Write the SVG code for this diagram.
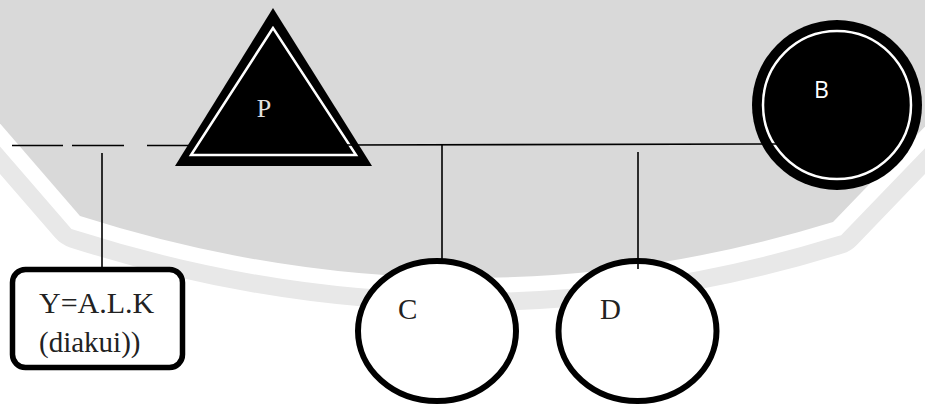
<svg xmlns="http://www.w3.org/2000/svg" width="925" height="405" viewBox="0 0 925 405">
<style>
.conn{stroke:#000;stroke-width:1.6;fill:none}
.lbl{fill:#222}
</style>
<defs>
<path id="seal" d="M -10,112 L 80,216 Q 460,337 833,222 L 940,111 L 940,-60 L -10,-60 Z"/>
</defs>
<rect width="925" height="405" fill="#ffffff"/>
<g id="background">
<use href="#seal" fill="none" stroke="#e8e8e8" stroke-width="66" stroke-linejoin="round"/>
<use href="#seal" fill="none" stroke="#ffffff" stroke-width="30"/>
<use href="#seal" fill="#d9d9d9"/>
</g>
<g id="node-P">
<polygon points="273,8 175,166 372,166" fill="#000"/>
<polygon points="273,28 191,155 356,155" fill="#000" stroke="#ffffff" stroke-width="2.5"/>
<text x="264" y="117" font-family="'Liberation Serif','Times New Roman',serif" font-size="26" fill="#e0e0e0" text-anchor="middle">P</text>
</g>
<g id="node-B">
<circle cx="837" cy="105" r="85" fill="#000"/>
<circle cx="837" cy="105" r="74" fill="#000" stroke="#ffffff" stroke-width="2.5"/>
<text x="814" y="98" font-family="'Open Sans','Noto Sans',sans-serif" font-size="23" fill="#ffffff">B</text>
</g>
<g id="node-Y">
<rect x="12.5" y="269.5" width="170" height="98" rx="13" fill="#ffffff" stroke="#000" stroke-width="5.5"/>
<text x="39" y="313" font-family="'Liberation Serif','Times New Roman',serif" class="lbl" font-size="30">Y=A.L.K</text>
<text x="39" y="352" font-family="'Liberation Serif','Times New Roman',serif" class="lbl" font-size="29">(diakui))</text>
</g>
<g id="node-C">
<ellipse cx="437" cy="331" rx="79" ry="70" fill="#ffffff" stroke="#000" stroke-width="6"/>
<text x="398" y="319" font-family="'Liberation Serif','Times New Roman',serif" class="lbl" font-size="29">C</text>
</g>
<g id="node-D">
<ellipse cx="637.5" cy="331" rx="79" ry="70" fill="#ffffff" stroke="#000" stroke-width="6"/>
<text x="600" y="319" font-family="'Liberation Serif','Times New Roman',serif" class="lbl" font-size="29">D</text>
</g>
<g id="connectors">
<line class="conn" x1="12" y1="145.5" x2="63" y2="145.5"/>
<line class="conn" x1="72" y1="145.5" x2="124" y2="145.5"/>
<line class="conn" x1="147" y1="145.5" x2="190" y2="145.5"/>
<line class="conn" x1="345" y1="145" x2="780" y2="144"/>
<line class="conn" x1="102" y1="153" x2="102" y2="268"/>
<line class="conn" x1="442" y1="145" x2="442" y2="259"/>
<line class="conn" x1="638" y1="152" x2="638" y2="269"/>
</g>
</svg>
